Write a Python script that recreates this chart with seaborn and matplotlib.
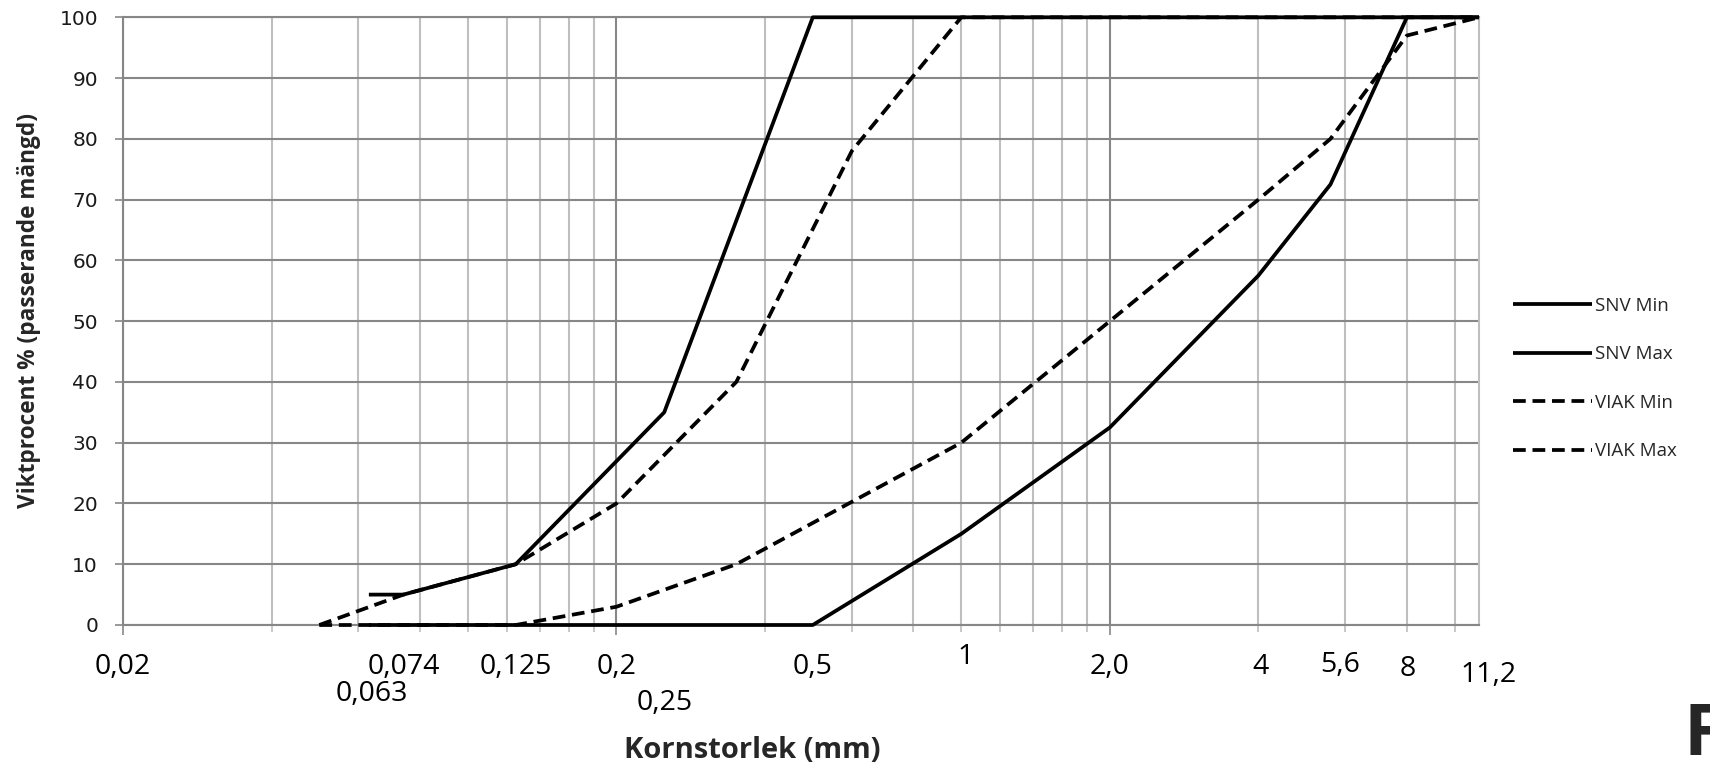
import numpy as np
import pandas as pd
import matplotlib
matplotlib.use("Agg")
import matplotlib.pyplot as plt
import matplotlib.transforms as mtransforms
from matplotlib.ticker import FixedLocator, NullFormatter
import seaborn as sns

# ---------------- data ----------------
snv_min_x = [0.063, 0.074, 0.125, 0.25, 0.5, 1, 2, 4, 5.6, 8, 11.2]
snv_min_y = [0, 0, 0, 0, 0, 15, 32.5, 57.5, 72.5, 100, 100]

snv_max_x = [0.063, 0.074, 0.125, 0.25, 0.5, 1, 2, 4, 5.6, 8, 11.2]
snv_max_y = [5, 5, 10, 35, 100, 100, 100, 100, 100, 100, 100]

viak_min_x = [0.05, 0.125, 0.2, 0.35, 1, 2, 4, 5.6, 8, 11.2]
viak_min_y = [0, 0, 3, 10, 30, 50, 70, 80, 97, 100]

viak_max_x = [0.05, 0.074, 0.125, 0.2, 0.35, 0.6, 1, 2, 4, 5.6, 8, 11.2]
viak_max_y = [0, 5, 10, 20, 40, 78, 100, 100, 100, 100, 100, 100]

series_names = ["SNV Min", "SNV Max", "VIAK Min", "VIAK Max"]

x_tick_values = [0.02, 0.074, 0.063, 0.125, 0.2, 0.25, 0.5, 1, 2, 4, 5.6, 8, 11.2]
x_tick_labels = ["0,02", "0,074", "0,063", "0,125", "0,2", "0,25", "0,5", "1",
                 "2,0", "4", "5,6", "8", "11,2"]
# label placement (pixel offsets from the axis line: dx, dy below)
x_tick_offsets = [(0, 42), (0, 42), (3, 69), (0, 42), (0, 42), (0, 78), (0, 42),
                  (4, 32), (0, 42), (2, 42), (10, 40), (1, 44), (10, 50)]

y_ticks = list(range(0, 101, 10))

# ---------------- build dataframe ----------------
frames = []
for name, xs, ys in zip(series_names,
                        [snv_min_x, snv_max_x, viak_min_x, viak_max_x],
                        [snv_min_y, snv_max_y, viak_min_y, viak_max_y]):
    frames.append(pd.DataFrame({"Kornstorlek": xs, "Passerande": ys, "Serie": name}))
df = pd.concat(frames, ignore_index=True)

# ---------------- style ----------------
sns.set_style("white")
plt.rcParams["font.family"] = ["Open Sans", "DejaVu Sans"]

DPI = 100
fig = plt.figure(figsize=(17.10, 7.67), dpi=DPI)
ax = fig.add_axes([123 / 1710, 1 - 625 / 767, (1479 - 123) / 1710, (625 - 17.3) / 767])

LW = 2.7
dash = (3.4, 1.8)
styles = {"SNV Min": "-", "SNV Max": "-", "VIAK Min": (0, dash), "VIAK Max": (0, dash)}
for name in series_names:
    sub = df[df["Serie"] == name]
    sns.lineplot(data=sub, x="Kornstorlek", y="Passerande", ax=ax, color="black",
                 linewidth=LW, sort=False, estimator=None, label=name,
                 legend=False)
    ln = ax.get_lines()[-1]
    ln.set_linestyle(styles[name])
    ln.set_clip_on(False)
    ln.set_solid_capstyle("butt")
    ln.set_dash_capstyle("butt")
    ln.set_zorder(5)

ax.set_xscale("log")
ax.set_xlim(0.02, 11.2)
ax.set_ylim(0, 100)

# grid positions (axis layout)
major_x = [0.02, 0.2, 2]
minor_x = [m * d for d in (0.02, 0.2, 2) for m in range(2, 10) if m * d < 11.2]
ax.xaxis.set_major_locator(FixedLocator(major_x))
ax.xaxis.set_minor_locator(FixedLocator(minor_x))
ax.xaxis.set_major_formatter(NullFormatter())
ax.xaxis.set_minor_formatter(NullFormatter())
ax.set_yticks(y_ticks)

dark = "#878787"
light = "#bfbfbf"
ax.grid(True, which="major", axis="x", color=dark, linewidth=1.5)
ax.grid(True, which="minor", axis="x", color=light, linewidth=1.5)
ax.grid(True, which="major", axis="y", color=dark, linewidth=1.5)
ax.set_axisbelow(True)

ax.tick_params(axis="x", which="major", direction="out", length=7.5, width=1.2,
               color=dark, bottom=True)
ax.tick_params(axis="x", which="minor", direction="out", length=5, width=1.2,
               color=light, bottom=True)
ax.tick_params(axis="y", which="major", direction="out", length=6, width=1.2,
               color=dark, left=True, pad=12, labelsize=14.5, labelcolor="#1a1a1a")
for lab in ax.get_yticklabels():
    lab.set_family("DejaVu Sans")

for side in ["left", "bottom", "top"]:
    ax.spines[side].set_color(dark)
    ax.spines[side].set_linewidth(1.5)
ax.spines["right"].set_color(light)
ax.spines["right"].set_linewidth(1.5)

ax.set_xlabel("")
ax.set_ylabel("")

# x tick labels as text boxes
trans = mtransforms.blended_transform_factory(ax.transData, ax.transAxes)
for val, lab, (dx, dy) in zip(x_tick_values, x_tick_labels, x_tick_offsets):
    off = mtransforms.offset_copy(trans, fig=fig, x=dx, y=-dy, units="dots")
    ax.text(val, 0, lab, transform=off, ha="center", va="center",
            fontsize=20.5, color="black")

# axis titles
fig.text(752 / 1710, 1 - 750 / 767, "Kornstorlek (mm)", ha="center", va="center",
         fontsize=21, fontweight="bold")
fig.text(29 / 1710, 1 - 311 / 767, "Viktprocent % (passerande mängd)", ha="center",
         va="center", rotation=90, fontsize=16.3, fontweight="bold")

# legend
leg = ax.legend(loc="center left", bbox_to_anchor=(1513 / 1710, 1 - 378.5 / 767),
                bbox_transform=fig.transFigure, frameon=False, fontsize=13.5,
                handlelength=4.2, handletextpad=0.15, labelspacing=1.62,
                borderpad=0, borderaxespad=0)
for h in leg.get_lines():
    h.set_linewidth(LW)

# partial corner letter
fig.text(1683 / 1710, 1 - 700 / 767, "F", ha="left", va="top", fontsize=52,
         fontweight="bold")

fig.savefig("out.png", dpi=DPI)
